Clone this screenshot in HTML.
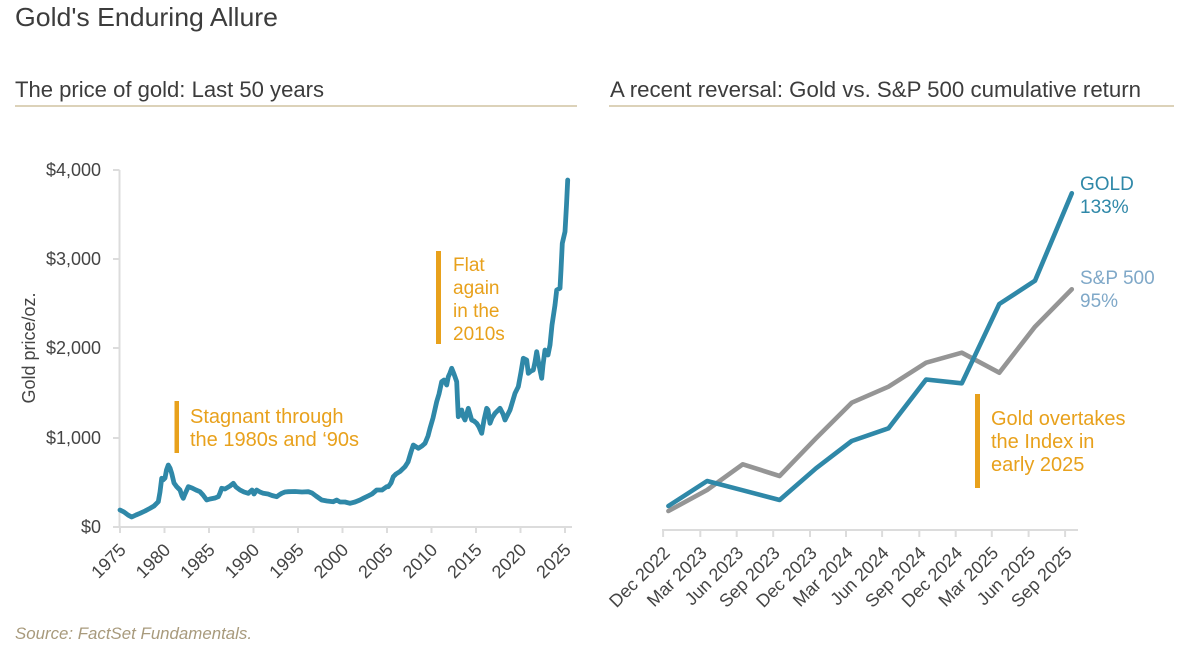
<!DOCTYPE html>
<html>
<head>
<meta charset="utf-8">
<style>
html,body{margin:0;padding:0;background:#ffffff;}
svg{display:block;}
text{font-family:"Liberation Sans",sans-serif;}
</style>
</head>
<body>
<svg width="1186" height="655" viewBox="0 0 1186 655" xmlns="http://www.w3.org/2000/svg">
<rect width="1186" height="655" fill="#ffffff"/>

<!-- Titles -->
<text x="15" y="26" font-size="26" fill="#3c3c3c" textLength="263" lengthAdjust="spacingAndGlyphs">Gold's Enduring Allure</text>
<text x="15" y="97" font-size="22" fill="#3c3c3c" textLength="309" lengthAdjust="spacingAndGlyphs">The price of gold: Last 50 years</text>
<text x="610" y="97" font-size="22" fill="#3c3c3c" textLength="531" lengthAdjust="spacingAndGlyphs">A recent reversal: Gold vs. S&amp;P 500 cumulative return</text>
<line x1="15" y1="106" x2="577" y2="106" stroke="#d0c4a2" stroke-width="1.5"/>
<line x1="609" y1="106" x2="1174" y2="106" stroke="#d0c4a2" stroke-width="1.5"/>

<!-- LEFT CHART axes -->
<g stroke="#dcdcdc" stroke-width="2" fill="none">
  <line x1="119.5" y1="170" x2="119.5" y2="527"/>
  <line x1="113" y1="527" x2="572" y2="527"/>
  <line x1="113" y1="170" x2="119.5" y2="170"/>
  <line x1="113" y1="259" x2="119.5" y2="259"/>
  <line x1="113" y1="348" x2="119.5" y2="348"/>
  <line x1="113" y1="438" x2="119.5" y2="438"/>
  <line x1="120" y1="527" x2="120" y2="533"/>
  <line x1="164.5" y1="527" x2="164.5" y2="533"/>
  <line x1="209" y1="527" x2="209" y2="533"/>
  <line x1="253.5" y1="527" x2="253.5" y2="533"/>
  <line x1="298" y1="527" x2="298" y2="533"/>
  <line x1="342.5" y1="527" x2="342.5" y2="533"/>
  <line x1="387" y1="527" x2="387" y2="533"/>
  <line x1="431.5" y1="527" x2="431.5" y2="533"/>
  <line x1="476" y1="527" x2="476" y2="533"/>
  <line x1="520.5" y1="527" x2="520.5" y2="533"/>
  <line x1="565" y1="527" x2="565" y2="533"/>
</g>
<g font-size="18" fill="#444444" text-anchor="end">
  <text x="101" y="176">$4,000</text>
  <text x="101" y="265">$3,000</text>
  <text x="101" y="354">$2,000</text>
  <text x="101" y="444">$1,000</text>
  <text x="101" y="533">$0</text>
</g>
<text transform="translate(35,348) rotate(-90)" font-size="18" fill="#444444" text-anchor="middle">Gold price/oz.</text>

<g font-size="18" fill="#444444" text-anchor="end">
  <text transform="translate(127,551) rotate(-45)">1975</text>
  <text transform="translate(171.5,551) rotate(-45)">1980</text>
  <text transform="translate(216,551) rotate(-45)">1985</text>
  <text transform="translate(260.5,551) rotate(-45)">1990</text>
  <text transform="translate(305,551) rotate(-45)">1995</text>
  <text transform="translate(349.5,551) rotate(-45)">2000</text>
  <text transform="translate(394,551) rotate(-45)">2005</text>
  <text transform="translate(438.5,551) rotate(-45)">2010</text>
  <text transform="translate(483,551) rotate(-45)">2015</text>
  <text transform="translate(527.5,551) rotate(-45)">2020</text>
  <text transform="translate(572,551) rotate(-45)">2025</text>
</g>

<!-- Gold price series -->
<polyline fill="none" stroke="#2f88a8" stroke-width="4.8" stroke-linejoin="round" stroke-linecap="round" points="
120,510 124,512 128,515 131.7,517 136,515 140,513.3 145,511 150,508.3 154,506 158.3,501.7 160,492 161.7,478.3 163,480 165,478 166.5,470 168.3,465 170,468 171.7,473.3 174,483 176.7,486.7 178,488 180,490 182,496 183.3,498.3 185,494 188.3,486.7 192,488 196,490 200,491.7 203,495 206.7,500 210,499 215,498 218.3,496.7 220,493 221.7,488.3 225,489 230,486 233.3,483.3 236,487 240,490 244,492 248.3,493.3 252,490 254,494 256.7,490 260,492 263.3,493.3 268,494 272,495.5 276.7,496.7 279,495 281.7,493.3 285,492 288.3,491.7 295,491.5 302,492 308.3,491.7 312,493 316,496 321.7,500 327,501 333.3,501.7 336.7,500 340,502 345,502 350,503.3 355,502 360,500 363.3,498.3 368,496 372,494 376.7,490 382,490 386.7,486.7 388.3,486.7 391,483 393.3,476.7 396,474 400,471.5 405,466.7 408,462 411,452 413.3,445 418.3,448.3 422,446 425,443.3 428,436 430,428.3 433,418 436.7,401.7 439,394 441.7,381.7 444,380 446.7,385 448.3,376.7 450,373 451.7,368.3 454,374 456.7,381.7 457.5,400 458.3,416.7 460,414 461.7,410 463,416 465,420 468.3,408.3 471.7,420 474,421 476.7,423.3 479,427 481.7,433.3 484,420 486.7,408.3 488,410 490,423.3 492,418 495,413.3 500,408.3 503,414 505,420 508,414 510,410 513,400 515,393.3 518.3,386.7 521,372 523.3,358.3 526.7,360 528.3,373.3 531,371 533.3,370 535,362 536.7,351.7 539,365 541.7,378.3 543,365 545,350 548,355 550,345 552,325 555,305 556.7,290 560,288.3 561,270 562.3,243.3 565,231.7 566.5,205 567.7,180"/>

<!-- Left annotations -->
<rect x="174.5" y="401" width="4.5" height="52" fill="#e8a11c"/>
<g font-size="20" fill="#e8a11c">
  <text x="190" y="423">Stagnant through</text>
  <text x="190" y="446">the 1980s and ‘90s</text>
</g>
<rect x="436" y="251" width="5" height="93" fill="#e8a11c"/>
<g font-size="19" fill="#e8a11c">
  <text x="453" y="271">Flat</text>
  <text x="453" y="294">again</text>
  <text x="453" y="317">in the</text>
  <text x="453" y="340">2010s</text>
</g>

<!-- RIGHT CHART axes -->
<g stroke="#dcdcdc" stroke-width="2" fill="none">
  <line x1="662" y1="530" x2="1078" y2="530"/>
  <line x1="663.1" y1="530" x2="663.1" y2="537"/>
  <line x1="700.3" y1="530" x2="700.3" y2="537"/>
  <line x1="736.7" y1="530" x2="736.7" y2="537"/>
  <line x1="773.2" y1="530" x2="773.2" y2="537"/>
  <line x1="810" y1="530" x2="810" y2="537"/>
  <line x1="846" y1="530" x2="846" y2="537"/>
  <line x1="882.1" y1="530" x2="882.1" y2="537"/>
  <line x1="919.3" y1="530" x2="919.3" y2="537"/>
  <line x1="955.7" y1="530" x2="955.7" y2="537"/>
  <line x1="991.8" y1="530" x2="991.8" y2="537"/>
  <line x1="1028.6" y1="530" x2="1028.6" y2="537"/>
  <line x1="1065.1" y1="530" x2="1065.1" y2="537"/>
</g>
<g font-size="18" fill="#444444" text-anchor="end">
  <text transform="translate(671,554) rotate(-45)">Dec 2022</text>
  <text transform="translate(708,554) rotate(-45)">Mar 2023</text>
  <text transform="translate(744.5,554) rotate(-45)">Jun 2023</text>
  <text transform="translate(781,554) rotate(-45)">Sep 2023</text>
  <text transform="translate(818,554) rotate(-45)">Dec 2023</text>
  <text transform="translate(854,554) rotate(-45)">Mar 2024</text>
  <text transform="translate(890,554) rotate(-45)">Jun 2024</text>
  <text transform="translate(927,554) rotate(-45)">Sep 2024</text>
  <text transform="translate(963.5,554) rotate(-45)">Dec 2024</text>
  <text transform="translate(999.5,554) rotate(-45)">Mar 2025</text>
  <text transform="translate(1036.5,554) rotate(-45)">Jun 2025</text>
  <text transform="translate(1073,554) rotate(-45)">Sep 2025</text>
</g>

<!-- S&P series -->
<polyline fill="none" stroke="#959595" stroke-width="4.6" stroke-linejoin="round" stroke-linecap="round" points="668.4,511 707.1,490 742.8,464.3 779.6,476 816,438.3 851.7,402.7 888.5,386.7 926.1,362.7 961.8,352.7 999.3,372.7 1035,326.7 1071.8,289.3"/>
<!-- Gold series -->
<polyline fill="none" stroke="#2f88a8" stroke-width="4.6" stroke-linejoin="round" stroke-linecap="round" points="668.4,506 707.1,481 742.8,490.3 779.6,500 816,468.3 851.7,441 888.5,428.3 926.1,379.5 961.8,383.3 999.3,304 1035,280.7 1071.8,193.3"/>

<!-- Series labels -->
<g font-size="19" fill="#2f88a8">
  <text x="1080" y="190">GOLD</text>
  <text x="1080" y="213">133%</text>
</g>
<g font-size="19" fill="#7fa8c8">
  <text x="1080" y="284">S&amp;P 500</text>
  <text x="1080" y="307">95%</text>
</g>

<!-- Right annotation -->
<rect x="975" y="394" width="5" height="94" fill="#e8a11c"/>
<g font-size="20" fill="#e8a11c">
  <text x="991" y="425">Gold overtakes</text>
  <text x="991" y="448">the Index in</text>
  <text x="991" y="471">early 2025</text>
</g>

<!-- Source -->
<text x="15" y="639" font-size="17" font-style="italic" fill="#a89a7c" textLength="237" lengthAdjust="spacingAndGlyphs">Source: FactSet Fundamentals.</text>
</svg>
</body>
</html>
